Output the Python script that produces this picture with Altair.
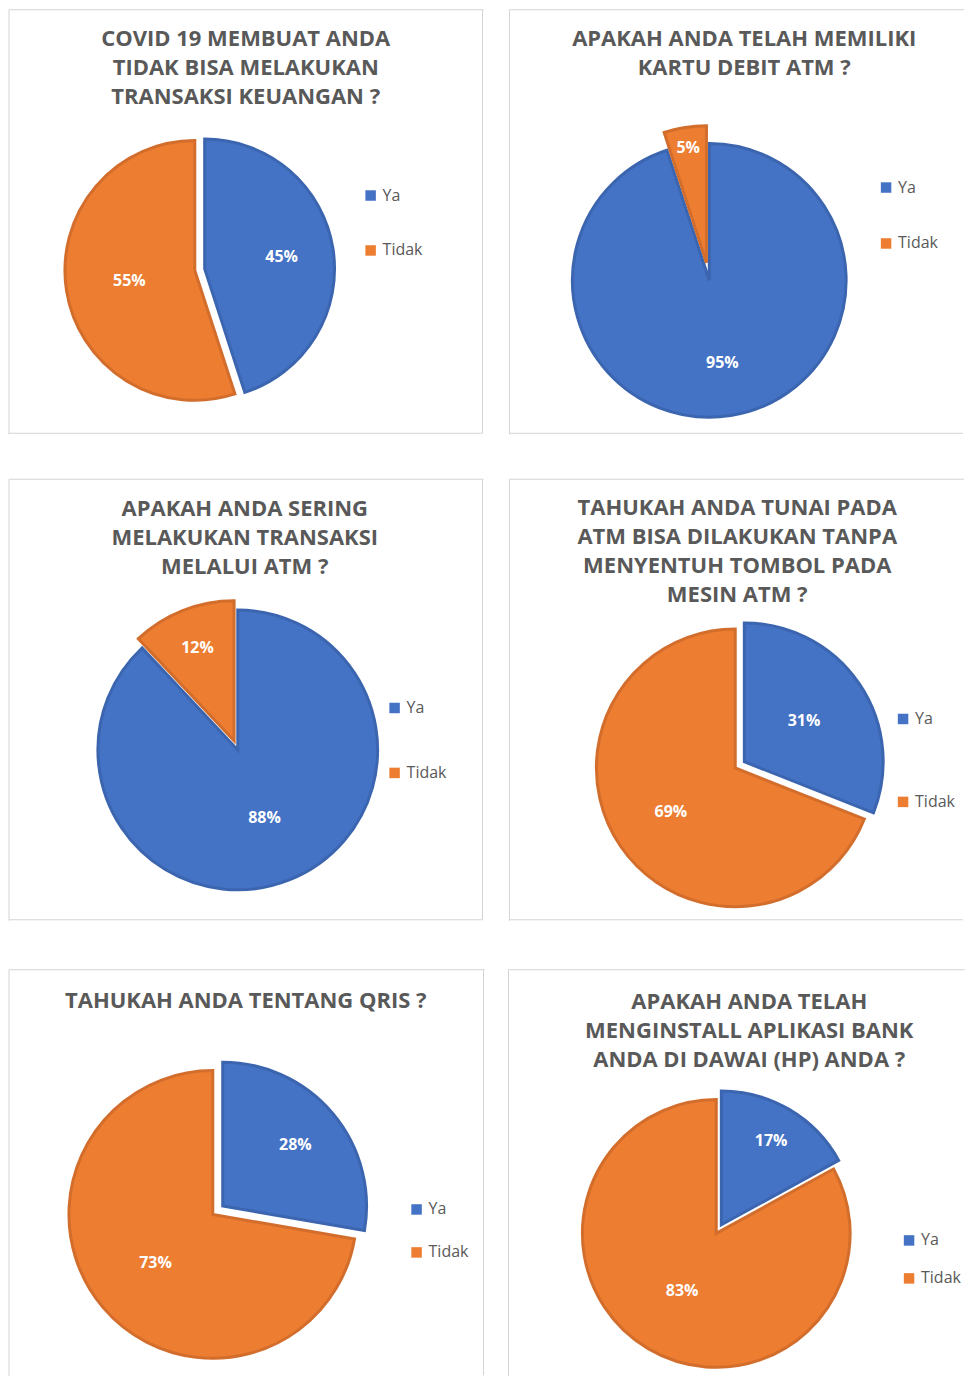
import altair as alt
import pandas as pd

# ---------------- data ----------------
CATEGORIES = ["Ya", "Tidak"]
TITLES = [
    ["COVID 19 MEMBUAT ANDA", "TIDAK BISA MELAKUKAN", "TRANSAKSI KEUANGAN ?"],
    ["APAKAH ANDA TELAH MEMILIKI", "KARTU DEBIT ATM ?"],
    ["APAKAH ANDA SERING", "MELAKUKAN TRANSAKSI", "MELALUI ATM ?"],
    ["TAHUKAH ANDA TUNAI PADA", "ATM BISA DILAKUKAN TANPA", "MENYENTUH TOMBOL PADA", "MESIN ATM ?"],
    ["TAHUKAH ANDA TENTANG QRIS ?"],
    ["APAKAH ANDA TELAH", "MENGINSTALL APLIKASI BANK", "ANDA DI DAWAI (HP) ANDA ?"],
]
YA_VALUES = [45, 95, 88, 31, 28, 17]
TIDAK_VALUES = [55, 5, 12, 69, 73, 83]

# ---------------- styles ----------------
FILL = ["#4472C4", "#ED7D31"]
EDGE = ["#3C65B0", "#D36D2C"]
TITLE_COLOR = "#595959"
BORDER = "#D4D4D4"
FONT = "Open Sans"

# per panel: size, pie centre (cx, cy), radius, explode per slice, label radius factor per slice,
# title position, legend placement, which frame sides are visible
STYLE = [
    dict(w=476, h=426, cx=187, cy=262, r=130, explode=[10, 0], lab=[0.6, 0.51], tx=238, ty=37,
         lx=355, ly=179, rp=39, right=True, bottom=True),
    dict(w=456, h=426, cx=201, cy=272, r=137, explode=[0, 18], lab=[0.61, 0.85], tx=236, ty=37,
         lx=370, ly=171, rp=40, right=False, bottom=True),
    dict(w=476, h=443, cx=230, cy=272, r=140, explode=[0, 10], lab=[0.52, 0.71], tx=237, ty=38,
         lx=379, ly=222, rp=49, right=True, bottom=True),
    dict(w=456, h=443, cx=227, cy=290, r=139, explode=[11, 0], lab=[0.52, 0.56], tx=229, ty=37,
         lx=387, ly=233, rp=67, right=False, bottom=True),
    dict(w=477, h=408, cx=205, cy=246, r=144, explode=[13, 0], lab=[0.66, 0.52], tx=238, ty=39,
         lx=401, ly=233, rp=27, right=True, bottom=False),
    dict(w=458, h=408, cx=209, cy=265, r=134, explode=[10, 0], lab=[0.73, 0.5], tx=242, ty=40,
         lx=394, ly=264, rp=22, right=False, bottom=False),
]


def frame(st):
    one = alt.Chart(pd.DataFrame({"k": [0]}))
    w, h = st["w"], st["h"]
    rule = dict(color=BORDER, strokeWidth=1)
    parts = [
        one.mark_rule(**rule).encode(x=alt.value(1), x2=alt.value(w), y=alt.value(1)),
        one.mark_rule(**rule).encode(x=alt.value(1), y=alt.value(1), y2=alt.value(h)),
    ]
    if st["right"]:
        parts.append(one.mark_rule(**rule).encode(
            x=alt.value(w - 1), y=alt.value(1), y2=alt.value(h - 1)))
    if st["bottom"]:
        parts.append(one.mark_rule(**rule).encode(
            x=alt.value(1), x2=alt.value(w - 1), y=alt.value(h - 1)))
    return parts


def panel(i):
    st = STYLE[i]
    df = pd.DataFrame({
        "cat": CATEGORIES,
        "value": [YA_VALUES[i], TIDAK_VALUES[i]],
        "order": list(range(len(CATEGORIES))),
        "explode": st["explode"],
        "labr": st["lab"],
    })
    base = (
        alt.Chart(df)
        .transform_joinaggregate(total="sum(value)")
        .transform_window(cum="sum(value)", sort=[alt.SortField("order")], frame=[None, 0])
        .transform_calculate(
            a0="2*PI*(datum.cum - datum.value)/datum.total",
            a1="2*PI*datum.cum/datum.total",
        )
        .transform_calculate(mid="(datum.a0 + datum.a1)/2")
        .transform_calculate(
            px=f"{st['cx']} + datum.explode*sin(datum.mid)",
            py=f"{st['cy']} - datum.explode*cos(datum.mid)",
        )
        .transform_calculate(
            tx=f"datum.px + datum.labr*{st['r']}*sin(datum.mid)",
            ty=f"datum.py - datum.labr*{st['r']}*cos(datum.mid)",
            label="datum.value + '%'",
        )
    )
    arcs = base.mark_arc(radius=st["r"], strokeWidth=3, strokeJoin="miter").encode(
        theta=alt.Theta("a0:Q", scale=None),
        theta2="a1:Q",
        x=alt.X("px:Q", scale=None, axis=None),
        y=alt.Y("py:Q", scale=None, axis=None),
        color=alt.Color(
            "cat:N",
            scale=alt.Scale(domain=CATEGORIES, range=FILL),
            sort=CATEGORIES,
            legend=alt.Legend(
                orient="none", legendX=st["lx"], legendY=st["ly"], title=None,
                symbolType="square", symbolSize=110, symbolStrokeWidth=0,
                labelFontSize=16, labelFont=FONT, labelColor=TITLE_COLOR,
                labelOffset=4, rowPadding=st["rp"], padding=0,
            ),
        ),
        stroke=alt.Stroke("cat:N", scale=alt.Scale(domain=CATEGORIES, range=EDGE), legend=None),
        order=alt.Order("order:Q"),
    )
    labels = base.mark_text(
        font=FONT, fontSize=16, fontWeight="bold", color="white", align="center", baseline="middle"
    ).encode(
        x=alt.X("tx:Q", scale=None, axis=None),
        y=alt.Y("ty:Q", scale=None, axis=None),
        text="label:N",
    )
    title = alt.Chart(pd.DataFrame({"k": [0]})).mark_text(
        font=FONT, fontSize=22, fontWeight="bold", color=TITLE_COLOR, align="center",
        baseline="alphabetic", lineHeight=29,
    ).encode(text=alt.value(TITLES[i]), x=alt.value(st["tx"]), y=alt.value(st["ty"]))
    return alt.layer(*frame(st), arcs, labels, title).properties(
        width=st["w"], height=st["h"]).resolve_scale(color="independent", stroke="independent")


def row(a, b, sp):
    return alt.hconcat(panel(a), panel(b), spacing=sp).resolve_scale(
        color="independent", stroke="independent")


inner = alt.vconcat(row(2, 3, 24), row(4, 5, 22), spacing=47).resolve_scale(
    color="independent", stroke="independent")
chart = (
    alt.vconcat(row(0, 1, 24), inner, spacing=43)
    .resolve_scale(color="independent", stroke="independent")
    .properties(padding=0, background="white")
    .configure_view(stroke=None)
)

chart.save("out.html", embed_options={"renderer": "svg", "actions": False})
